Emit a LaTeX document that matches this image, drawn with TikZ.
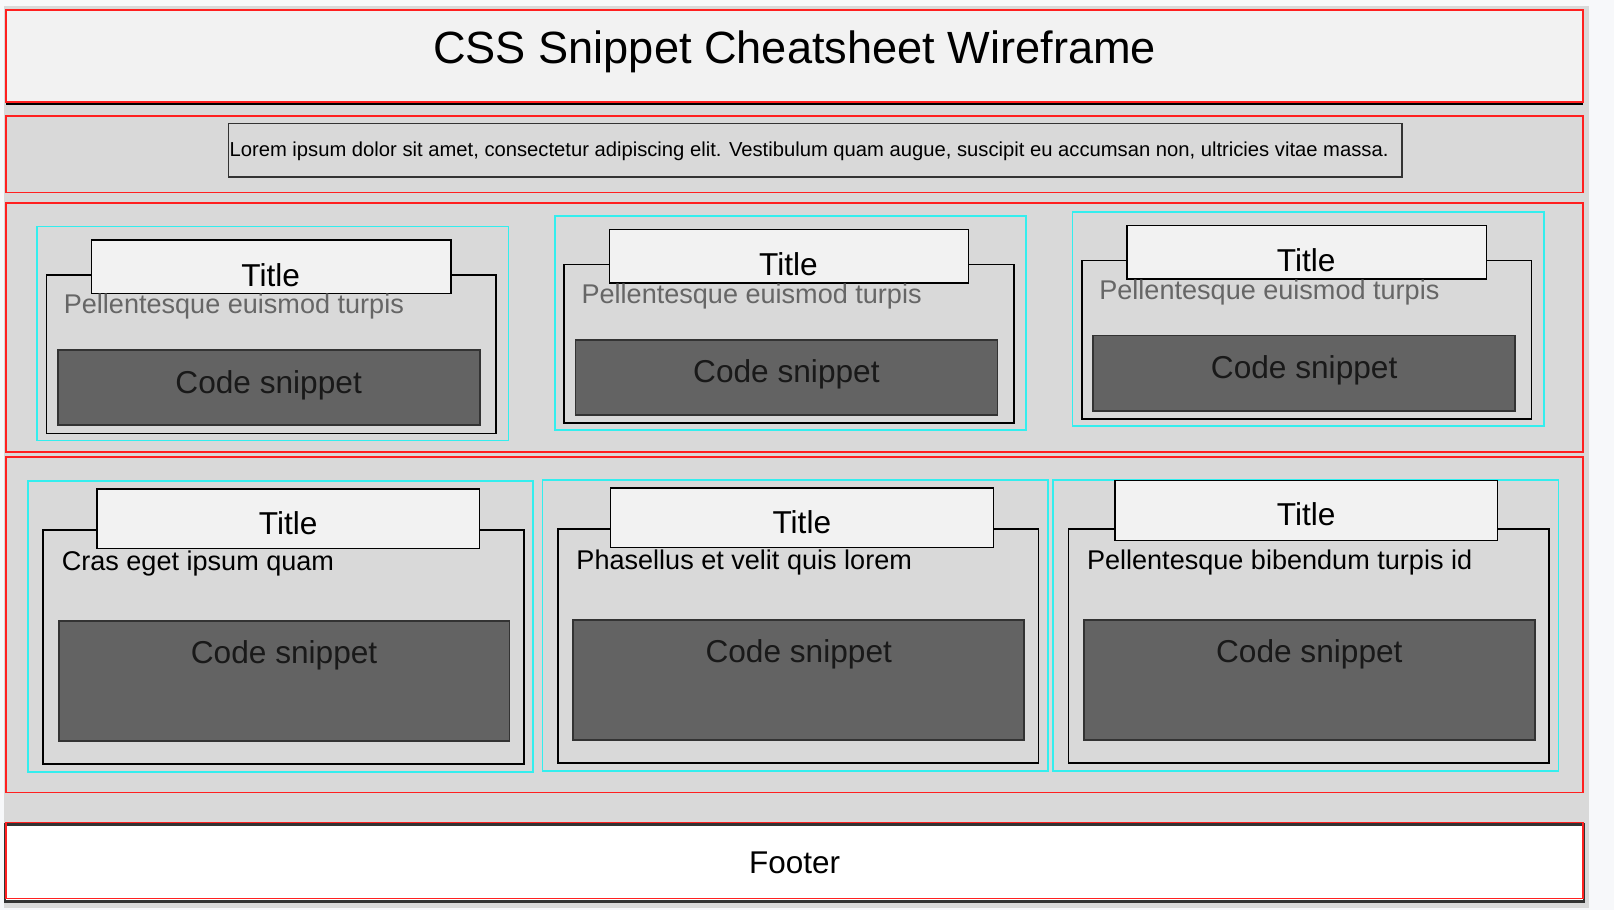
\documentclass[tikz,border=0pt]{standalone}
\usepackage{fontspec}
\setmainfont{Liberation Sans}
\usetikzlibrary{positioning}

\definecolor{pagebg}{HTML}{F7F8FA}
\definecolor{bandgrey}{HTML}{D9D9D9}
\definecolor{boxlight}{HTML}{F2F2F2}
\definecolor{codegrey}{HTML}{636363}
\definecolor{frame}{HTML}{FF2020}
\definecolor{cardline}{HTML}{33EEEE}

\begin{document}
\begin{tikzpicture}[x=0.020587cm, y=-0.020587cm,
  band/.style={draw=frame, line width=1pt, fill=bandgrey},
  card/.style={draw=cardline, line width=1pt},
  panel/.style={draw=black, line width=0.9pt, fill=bandgrey},
  titlebox/.style={draw=black, line width=0.9pt, fill=boxlight, font=\fontsize{18}{20}\selectfont, inner sep=0pt},
  code/.style={draw=black!80, line width=1pt, fill=codegrey},
  codetxt/.style={font=\fontsize{18}{20}\selectfont, text=black!90},
  desc/.style={anchor=west, font=\fontsize{15.4}{17}\selectfont},
]
\useasboundingbox (0,0) rectangle (1568,884);
\fill[pagebg] (0,0) rectangle (1568,884);
\fill[bandgrey] (4,6) rectangle (1544,882);

% header
\draw[black, line width=1.2pt] (6,101) -- (1538,101);
\draw[frame, line width=1pt, fill=boxlight] (6,10) rectangle (1538,99);
\node[font=\fontsize{25.7}{29}\selectfont] (head) at (772,50) {CSS Snippet Cheatsheet Wireframe};

% intro
\draw[band] (6,113) rectangle (1538,187);
\draw[black!80, line width=0.9pt] (222,120) rectangle (1362,172);
\node[font=\fontsize{11.5}{13}\selectfont] (intro) at (786,147) {Lorem ipsum dolor sit amet, consectetur adipiscing elit. Vestibulum quam augue, suscipit eu accumsan non, ultricies vitae massa.};

% first row
\draw[band] (6,197) rectangle (1538,439);
\foreach \dx/\dy [count=\i] in {0/0, 503/-10, 1006/-14}{
  \begin{scope}[shift={(\dx,\dy)}]
    \draw[card] (36,220) rectangle (494,428);
    \draw[panel] (45,267) rectangle (482,421);
    \draw[titlebox] (89,233) rectangle (438,285);
    \node[titlebox, draw=none, fill=none] (ta\i) at (263,267) {Title};
    \node[desc, text=black!60] (da\i) at (56,298) {Pellentesque euismod turpis};
    \draw[code] (56,340) rectangle (466,413);
    \node[codetxt] (ca\i) at (261,374) {Code snippet};
  \end{scope}
}

% second row
\draw[band] (6,444) rectangle (1538,770);
\foreach \dx/\dy/\txt [count=\i] in {0/0/Cras eget ipsum quam, 500/-1/Phasellus et velit quis lorem, 996/-1/Pellentesque bibendum turpis id}{
  \begin{scope}[shift={(\dx,\dy)}]
    \draw[card] (27,467) rectangle (518,750);
    \draw[panel] (42,515) rectangle (509,742);
    \node[desc] (db\i) at (54,547) {\txt};
    \draw[code] (57,603) rectangle (495,720);
    \node[codetxt] (cb\i) at (276,637) {Code snippet};
  \end{scope}
}
\draw[titlebox] (94,475) rectangle (466,533);
\node[titlebox, draw=none, fill=none] (tb1) at (280,508) {Title};
\draw[titlebox] (593,474) rectangle (965,532);
\node[titlebox, draw=none, fill=none] (tb2) at (779,507) {Title};
\draw[titlebox] (1083,467) rectangle (1455,525);
\node[titlebox, draw=none, fill=none] (tb3) at (1269,500) {Title};

% footer
\draw[black!80, line width=1.4pt, fill=white] (5,801) rectangle (1539,876);
\draw[frame, line width=1pt] (6,799) rectangle (1538,873);
\node[font=\fontsize{17.9}{20}\selectfont] (foot) at (772,838) {Footer};
\end{tikzpicture}
\end{document}
